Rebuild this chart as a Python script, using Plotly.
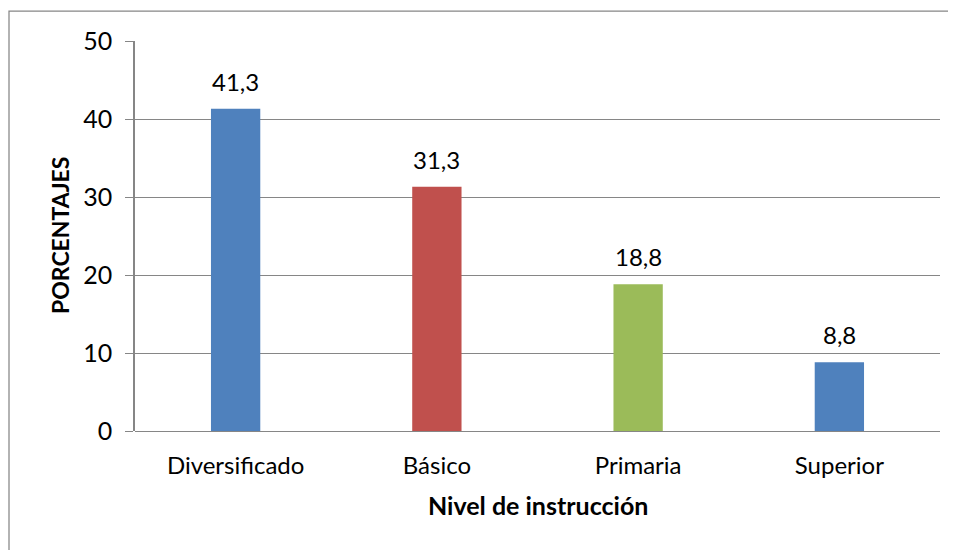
import plotly.graph_objects as go

niveles = ['Diversificado', 'Básico', 'Primaria', 'Superior']
porcentajes = [41.3, 31.3, 18.8, 8.8]
colores = ['#4F81BD', '#C0504D', '#9BBB59', '#4F81BD']
y_ticks = [0, 10, 20, 30, 40, 50]

# la pagina deja 8px de margen alrededor de la figura
OFF = 8
W, H = 956 - OFF, 550 - OFF
left, right, top, bottom = 135 - OFF, 940 - OFF, 41 - OFF, 431 - OFF


def px_x(x):
    return (x - OFF - left) / (right - left)


def px_y(y):
    return (bottom - (y - OFF)) / (bottom - top)


fuente = dict(family='Lato, Carlito, sans-serif', size=24, color='black')
gris = '#868686'

fig = go.Figure()
fig.add_trace(go.Bar(
    x=niveles,
    y=porcentajes,
    marker=dict(color=colores, line=dict(width=0)),
    width=0.245,
    hoverinfo='skip',
))

# etiquetas de datos encima de las barras
for nivel, valor in zip(niveles, porcentajes):
    fig.add_annotation(
        x=nivel, y=valor, text=f'{valor:.1f}'.replace('.', ','),
        showarrow=False, yanchor='bottom', yshift=11, font=fuente,
    )

fig.add_annotation(
    x=0.5, y=px_y(505), xref='paper', yref='paper',
    text='<b>Nivel de instrucción</b>', showarrow=False,
    xanchor='center', yanchor='middle', font=dict(fuente, size=25),
)
fig.add_annotation(
    x=px_x(60), y=px_y(236), xref='paper', yref='paper',
    text='<b>PORCENTAJES</b>', showarrow=False, textangle=-90,
    xanchor='center', yanchor='middle', font=dict(fuente, size=23),
)

# marco del grafico
fig.add_shape(
    type='rect', xref='paper', yref='paper',
    x0=px_x(9), x1=px_x(1100), y0=px_y(700), y1=px_y(11),
    line=dict(color=gris, width=1.25), fillcolor='rgba(0,0,0,0)',
    layer='below',
)

fig.update_layout(
    width=W, height=H,
    margin=dict(l=left, r=W - right, t=top, b=H - bottom),
    paper_bgcolor='white', plot_bgcolor='white',
    font=fuente,
    showlegend=False,
    xaxis=dict(
        showgrid=False, showline=False, ticks='',
        ticklabelstandoff=18, tickfont=fuente,
    ),
    yaxis=dict(
        range=[0, 50], tickvals=y_ticks, showgrid=True, gridcolor=gris,
        gridwidth=1, zeroline=True, zerolinecolor=gris, zerolinewidth=1,
        showline=True, linecolor=gris, linewidth=1.5,
        ticks='outside', ticklen=8, tickcolor=gris, tickwidth=1,
        ticklabelstandoff=8, tickfont=dict(fuente, size=25),
    ),
)

fig.write_html(
    'out.html',
    config={'displayModeBar': False},
    post_script="document.documentElement.style.overflow='hidden';",
)
